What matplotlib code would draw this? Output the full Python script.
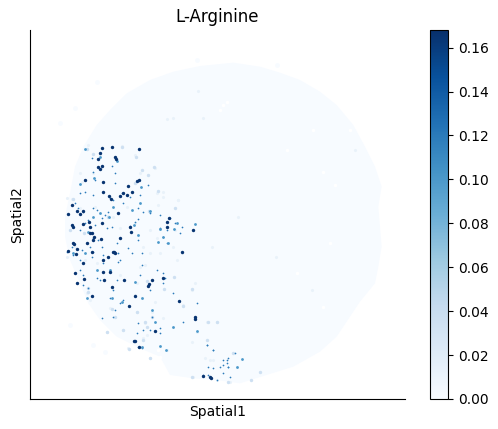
import matplotlib
matplotlib.use("Agg")
import matplotlib.pyplot as plt
from matplotlib.cm import ScalarMappable
from matplotlib.colors import Normalize

title = "L-Arginine"
vmin, vmax = 0.0, 0.168
cbar_ticks = [0.00, 0.02, 0.04, 0.06, 0.08, 0.10, 0.12, 0.14, 0.16]

# tissue outline
tissue_x = [520, 600, 660, 720, 780, 830, 880, 915, 945, 965, 955, 965, 955, 945, 900, 870, 830, 780, 700, 620,
            540, 470, 400, 330, 300, 240, 170, 120, 85, 60, 30, 15, 15, 30, 45, 70, 110, 150, 200, 270, 340, 420]
tissue_y = [38, 50, 68, 90, 125, 165, 225, 290, 350, 410, 470, 590, 650, 700, 755, 800, 860, 905, 950, 975,
            1000, 990, 985, 975, 920, 895, 860, 810, 760, 700, 630, 560, 500, 430, 350, 290, 225, 180, 130, 90, 65, 48]

gap_x = [490, 500, 480, 790, 810, 710, 790, 300, 295, 760, 870, 825, 680]
gap_y = [165, 155, 180, 365, 580, 670, 770, 920, 900, 240, 240, 405, 300]

stray_x = [45, 110, 100, 135, 30, 0, 410, 650]
stray_y = [175, 95, 885, 905, 825, 220, 30, 45]

dark_x = [126, 155, 237, 115, 120, 164, 167, 125, 115, 120, 232, 237, 129, 75, 205, 130, 217, 202, 190, 180, 147, 152,
          36, 24, 60, 52, 68, 174, 88, 68, 36, 38, 90, 126, 322, 322, 328, 211, 213, 90, 95, 103, 100, 80, 124, 180,
          38, 42, 52, 24, 48, 95, 162, 165, 158, 145, 128, 70, 44, 72, 50, 130, 150, 133, 193, 157, 265, 268, 276,
          95, 225, 208, 356, 405, 406, 285, 222, 226, 450, 453, 400, 365, 430, 237, 310]
dark_y = [295, 292, 297, 328, 310, 320, 327, 347, 352, 357, 393, 390, 397, 390, 408, 427, 425, 434, 430, 437, 437, 447,
          465, 493, 492, 482, 484, 490, 515, 521, 525, 530, 530, 518, 517, 530, 503, 530, 545, 549, 549, 560, 570, 578, 567, 565,
          580, 582, 598, 604, 612, 605, 605, 610, 605, 622, 630, 640, 668, 687, 700, 665, 665, 690, 690, 712, 708, 703, 690,
          737, 738, 768, 752, 800, 806, 843, 873, 873, 982, 985, 540, 607, 978, 890, 685]

mid_x = [75, 120, 172, 101, 244, 270, 300, 342, 350, 405, 310, 325, 295, 235, 222, 85, 160, 146, 40, 75, 245, 155, 185,
         80, 285, 340, 412, 318, 545, 530, 245, 300, 60, 100, 120, 240, 215, 150, 110, 225, 275]
mid_y = [298, 320, 332, 383, 410, 483, 538, 537, 518, 522, 560, 578, 575, 555, 525, 547, 470, 500, 608, 610, 743, 745, 755,
         745, 815, 830, 843, 900, 927, 950, 892, 888, 403, 500, 490, 460, 480, 660, 660, 695, 780]

pale_x = [397, 369, 470, 443, 397, 270, 208, 155, 230, 275, 342, 262, 80, 100, 185, 228, 245, 265,
          283, 295, 345, 267, 38, 72, 30, 85, 85, 145, 225, 600, 572, 505, 440, 260,
          255, 250, 190, 140, 165, 312, 520]
pale_y = [718, 767, 815, 817, 982, 925, 897, 777, 785, 800, 680, 693, 298, 313, 292, 320, 360, 375,
          352, 422, 475, 483, 447, 550, 540, 715, 725, 500, 400, 965, 990, 995, 870, 830,
          815, 870, 840, 845, 800, 718, 910]

# barely tinted spots in the pale part of the tissue
faint_x = [455, 535, 648, 756, 340, 355, 415, 320, 340, 430, 885, 350, 240,
           85, 185, 120, 225, 60, 100, 65, 285, 240, 20, 35, 60, 145, 290, 310, 355, 295, 310, 345, 225, 235, 300,
           250, 270, 300, 365, 45, 20, 75, 110, 255, 290, 270, 180, 160, 105, 200,
           180, 230, 80, 90, 150, 230, 275, 255, 190, 140, 250, 260, 205, 270, 405, 395, 370, 320, 340, 410, 440, 470,
           395, 435, 460, 530, 400, 470, 510, 450, 225, 245, 285, 310]
faint_y = [590, 500, 622, 720, 590, 450, 122, 208, 205, 203, 300, 630, 650,
           285, 288, 315, 315, 368, 370, 395, 355, 370, 445, 448, 475, 498, 430, 425, 450, 465, 440, 540, 520, 555, 538,
           590, 610, 610, 610, 590, 620, 630, 640, 645, 565, 540, 535, 500, 470, 470,
           675, 700, 730, 750, 775, 785, 785, 820, 840, 845, 865, 855, 895, 925, 700, 720, 765, 900, 830, 845, 815, 815,
           875, 925, 930, 950, 980, 990, 995, 930, 735, 745, 755, 805]

# the small specks between the bigger spots
speck_x = [95, 100, 155, 165, 165, 105, 75, 185, 210, 240, 265, 75, 60, 100, 150, 160, 190, 45, 55, 70, 100, 110, 135, 145,
           125, 235, 250, 270, 210, 225, 235, 140, 155, 60, 105, 75, 85, 300, 330, 345, 310, 320, 360, 170, 180, 205, 235,
           100, 125, 175, 180, 215, 245, 130, 60, 95, 35, 65, 20, 40, 100, 115, 90, 300, 320, 365,
           70, 60, 130, 175, 245, 240, 310, 315, 290, 170, 160, 120, 110, 85, 70, 150, 180, 190, 165, 160, 125, 235, 230,
           250, 275, 300, 270, 300, 370, 405, 445, 460, 480, 500, 505, 490, 430, 445, 510, 245, 235, 270, 310, 340, 410,
           440, 460, 490, 525, 505, 470, 505, 490, 460, 502, 440]
speck_y = [325, 365, 348, 370, 400, 390, 390, 430, 440, 435, 405, 425, 430, 435, 445, 450, 460, 460, 475, 485, 475, 480, 495, 485,
           505, 475, 485, 490, 528, 515, 508, 535, 530, 540, 525, 520, 510, 495, 505, 520, 560, 580, 550, 580, 565, 595, 570,
           605, 590, 610, 630, 610, 610, 615, 630, 620, 590, 600, 605, 615, 565, 570, 590, 535, 540, 530,
           675, 660, 640, 635, 645, 675, 670, 685, 660, 690, 720, 690, 685, 715, 705, 745, 760, 750, 780, 800, 805, 820, 850,
           840, 800, 835, 840, 850, 815, 805, 950, 955, 950, 940, 950, 970, 975, 975, 980, 895, 890, 720, 700, 730, 760,
           885, 900, 930, 910, 925, 990, 950, 945, 900, 930, 885]

dark_value = 0.165
mid_value = 0.10
pale_value = 0.035
faint_value = 0.012
speck_value = 0.12

cmap = plt.get_cmap("Blues")
norm = Normalize(vmin, vmax)

fig = plt.figure(figsize=(4.98, 4.29), dpi=100)
ax = fig.add_axes([30 / 498, 1 - 399 / 429, 375 / 498, 369 / 429])

ax.fill(tissue_x, tissue_y, color=cmap(norm(vmin)), lw=0)
ax.scatter(stray_x, stray_y, s=12, color=cmap(norm(vmin)), linewidths=0)
ax.scatter(gap_x, gap_y, s=6, color="white", linewidths=0)
ax.scatter(faint_x, faint_y, s=5, color=cmap(norm(faint_value)), linewidths=0)
ax.scatter(pale_x, pale_y, s=6, color=cmap(norm(pale_value)), linewidths=0)
ax.scatter(speck_x, speck_y, s=1.5, color=cmap(norm(speck_value)), linewidths=0)
ax.scatter(mid_x, mid_y, s=4, color=cmap(norm(mid_value)), linewidths=0)
ax.scatter(dark_x, dark_y, s=6, color=cmap(norm(dark_value)), linewidths=0)

ax.set_xlim(-90, 1035)
ax.set_ylim(1047, -60)
ax.set_xticks([])
ax.set_yticks([])
ax.spines["top"].set_visible(False)
ax.spines["right"].set_visible(False)
ax.set_title(title)
ax.set_xlabel("Spatial1")
ax.set_ylabel("Spatial2")

cax = fig.add_axes([430 / 498, 1 - 399 / 429, 18 / 498, 369 / 429])
cbar = fig.colorbar(ScalarMappable(norm=norm, cmap=cmap), cax=cax)
cbar.set_ticks(cbar_ticks)
cbar.set_ticklabels(["{:.2f}".format(t) for t in cbar_ticks])

fig.savefig("out.png", dpi=100)
